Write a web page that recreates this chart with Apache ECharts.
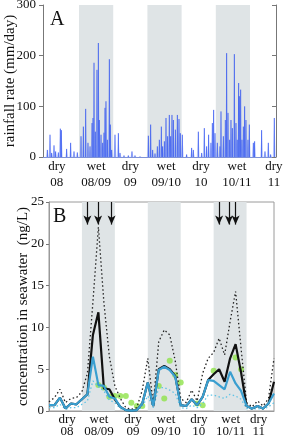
<!DOCTYPE html>
<html><head><meta charset="utf-8">
<script src="https://cdn.jsdelivr.net/npm/echarts@6/dist/echarts.min.js"></script>
<style>html,body{margin:0;padding:0;background:#fff}#c{width:285px;height:438px}</style>
</head><body><div id="c"></div>
<script>
// x unit: months since Jan 2008 (0 = Jan 2008)
const seasonLabels = ['dry\n08','wet\n08/09','dry\n09','wet\n09/10','dry\n10','wet\n10/11','dry\n11'];
const labelPosA = [6.1, 13.0, 19.0, 25.3, 31.4, 37.7, 44.2];
const labelPosB = [7.3, 13.1, 19.3, 25.3, 31.3, 37.1, 42.2];
const wetSeasons = [[10, 16], [22, 28], [34, 40]];

// Panel A: daily rainfall spikes (month position, mm/day)
const rainMonths = [4.44,4.91,5.20,5.61,5.90,6.37,6.72,6.90,7.83,8.53,9.12,9.70,
  10.35,10.76,11.17,11.57,11.93,12.28,12.45,12.63,12.86,13.15,13.39,13.56,13.86,14.15,14.38,14.56,14.73,14.97,15.32,15.49,15.73,
  16.31,16.90,17.19,17.89,18.65,19.29,19.82,20.70,
  22.16,22.57,22.92,23.33,23.74,24.09,24.44,24.67,24.97,25.26,25.55,25.84,26.08,26.31,26.55,26.90,27.25,27.54,27.77,28.12,
  28.88,29.76,30.05,30.93,31.52,31.98,32.39,32.74,33.15,33.39,33.62,33.86,
  34.26,34.73,34.91,35.32,35.67,35.90,36.14,36.43,36.66,36.90,37.25,37.54,37.77,38.01,38.12,38.36,38.59,38.83,39.06,39.29,39.64,39.88,
  40.58,40.81,42.04,42.63,43.21,43.62,44.26];
const rainValues = [14,44,8,23,11,9,56,53,16,28,11,9,
  41,60,95,28,21,67,77,186,50,172,225,73,44,28,48,97,110,34,193,64,14,
  44,47,8,3,3,11,3,1,
  42,64,14,7,21,34,60,21,31,77,41,83,41,83,73,54,83,75,47,44,
  5,18,14,50,8,57,21,44,28,67,93,47,
  28,21,90,41,73,205,87,34,73,57,203,67,34,146,120,133,34,60,100,73,34,64,
  28,31,53,11,28,5,77];

// Panel B: monthly model output and observations
const bMonths = [4,5,6,7,8,9,10,11,12,13,14,15,16,17,18,19,20,21,22,23,24,25,26,27,28,29,30,31,32,33,34,35,36,37,38,39,40,41,42,43,44,45];
const blackSolid = [0.7,0.7,1.6,0.3,0.9,0.8,1.4,2.0,9.1,11.8,2.7,2.6,1.4,0.5,0.1,0.05,0.1,0.9,3.4,0.6,5.0,5.4,5.0,4.2,0.7,0.6,1.4,0.7,1.7,3.7,4.4,5.0,3.5,6.3,8.0,4.6,0.6,0.3,0.6,0.3,0.9,3.5];
const blueSolid  = [0.7,0.7,1.6,0.3,0.9,0.8,1.4,2.0,6.5,3.1,3.0,1.7,1.5,0.5,0.1,0.05,0.1,0.9,3.4,0.6,4.9,5.3,4.9,4.1,0.7,0.6,1.4,0.7,1.7,3.7,3.6,3.1,2.6,4.7,3.3,2.4,0.6,0.3,0.6,0.3,0.9,2.1];
const blackDotted = [1.1,1.6,2.6,1.0,1.5,1.6,2.3,4.5,13.0,22.0,13.0,6.5,3.0,1.5,0.4,0.2,0.4,2.5,6.3,0.8,8.3,9.7,9.1,6.0,1.5,1.0,2.5,1.2,4.5,6.3,7.0,8.7,6.7,10.7,14.3,7.5,1.0,0.5,1.2,0.6,1.5,6.3];
const blueDotted = [0.4,0.4,0.8,0.2,0.4,0.4,0.8,1.2,3.6,2.9,2.4,1.3,1.0,0.3,0.05,0.03,0.05,0.5,1.8,0.4,2.8,2.8,2.5,2.1,0.4,0.3,0.7,0.4,0.9,1.9,1.9,1.7,1.5,2.0,1.8,1.4,0.3,0.2,0.3,0.2,0.5,1.0];
const obsMonths = [13,14,15,16,17,18,19,20,21,24,25,26,27,28,31,32,34,38,39];
const obsValues = [3.1,2.8,1.7,1.8,1.8,1.8,1.0,0.6,0.6,3.0,1.5,6.0,4.3,3.4,0.9,0.7,4.8,6.4,5.0];
const arrowMonths = [11.0, 12.95, 15.4, 35.0, 36.8, 38.0];

const FONT = 'Liberation Serif';
const zip = (xs, ys) => xs.map((x, i) => [x, ys[i]]);
const labelFor = (pos) => (v) => {
  let best = 0;
  pos.forEach((p, i) => { if (Math.abs(p - v) < Math.abs(pos[best] - v)) best = i; });
  return seasonLabels[best];
};
const bands = wetSeasons.map(s => [{xAxis: s[0]}, {xAxis: s[1]}]);

const chart = echarts.init(document.getElementById('c'), null, {renderer: 'canvas'});
chart.setOption({
  animation: false,
  textStyle: {fontFamily: FONT, color: '#111'},
  grid: [
    {left: 43, top: 5, width: 233, height: 152, show: false, containLabel: false, outerBoundsMode: 'none'},
    {left: 49, top: 202, width: 225, height: 209, show: true, borderColor: '#9a9a9a', borderWidth: 1, backgroundColor: 'transparent', containLabel: false, outerBoundsMode: 'none'}
  ],
  xAxis: [
    {gridIndex: 0, type: 'value', min: 3.68, max: 44.56, splitLine: {show: false},
     axisLine: {lineStyle: {color: '#7f92d6', width: 1}}, axisTick: {show: false},
     axisLabel: {customValues: labelPosA, formatter: labelFor(labelPosA), fontFamily: FONT, fontSize: 13, color: '#111', lineHeight: 16, margin: 2}},
    {gridIndex: 1, type: 'value', min: 4, max: 45, splitLine: {show: false},
     axisLine: {lineStyle: {color: '#9a9a9a', width: 1}}, axisTick: {show: false},
     axisLabel: {customValues: labelPosB, formatter: labelFor(labelPosB), fontFamily: FONT, fontSize: 13, color: '#111', lineHeight: 12.5, margin: 2}}
  ],
  yAxis: [
    {gridIndex: 0, type: 'value', min: 0, max: 300, interval: 100, position: 'left',
     name: 'rainfall rate (mm/day)', nameLocation: 'middle', nameGap: 25, nameMoveOverlap: false,
     nameTextStyle: {fontFamily: FONT, fontSize: 15, color: '#111'},
     splitLine: {show: false}, axisLine: {show: true, lineStyle: {color: '#777'}},
     axisTick: {show: true, length: 4, lineStyle: {color: '#777'}},
     axisLabel: {fontFamily: FONT, fontSize: 13, color: '#111', margin: 7}},
    {gridIndex: 0, type: 'value', min: 0, max: 300, interval: 100, position: 'right',
     splitLine: {show: false}, axisLine: {show: true, lineStyle: {color: '#777'}},
     axisTick: {show: true, inside: true, length: 4, lineStyle: {color: '#777'}},
     axisLabel: {show: false}},
    {gridIndex: 1, type: 'value', min: 0, max: 25, interval: 5, position: 'left',
     name: 'concentration in seawater  (ng/L)', nameLocation: 'middle', nameGap: 18, nameMoveOverlap: false,
     nameTextStyle: {fontFamily: FONT, fontSize: 15, color: '#111'},
     splitLine: {show: false}, axisLine: {show: true, lineStyle: {color: '#9a9a9a'}},
     axisTick: {show: true, length: 3, lineStyle: {color: '#777'}},
     axisLabel: {fontFamily: FONT, fontSize: 13, color: '#111', margin: 5}}
  ],
  graphic: [
    {type: 'text', left: 50, top: 10, style: {text: 'A', font: '20px ' + FONT, fill: '#111'}},
    {type: 'text', left: 53, top: 207, style: {text: 'B', font: '20px ' + FONT, fill: '#111'}}
  ],
  series: [
    {type: 'custom', xAxisIndex: 0, yAxisIndex: 0, data: zip(rainMonths, rainValues), silent: true,
     encode: {x: 0, y: 1}, clip: true,
     renderItem: (params, api) => {
       const b = api.coord([api.value(0), 0]);
       const t = api.coord([api.value(0), api.value(1)]);
       return {type: 'group', children: [
         {type: 'polygon', shape: {points: [[b[0] - 1.6, b[1]], [t[0], t[1]], [b[0] + 1.6, b[1]]]},
          style: {fill: 'rgba(120,150,245,0.35)'}},
         {type: 'line', shape: {x1: b[0], y1: b[1], x2: t[0], y2: t[1]},
          style: {stroke: 'rgba(40,75,240,0.85)', lineWidth: 1}}
       ]};
     },
     markArea: {silent: true, itemStyle: {color: '#dfe4e6'}, data: bands}},
    {type: 'line', xAxisIndex: 1, yAxisIndex: 2, data: zip(bMonths, blueDotted), symbol: 'none',
     lineStyle: {color: '#5ec3e6', width: 1.3, type: [1.5, 2.5]}, silent: true,
     markArea: {silent: true, itemStyle: {color: '#dfe4e6'}, data: bands}},
    {type: 'line', xAxisIndex: 1, yAxisIndex: 2, data: zip(bMonths, blackDotted), symbol: 'none',
     lineStyle: {color: '#222', width: 1.3, type: [1.5, 2.5]}, silent: true},
    {type: 'line', xAxisIndex: 1, yAxisIndex: 2, data: zip(bMonths, blackSolid), symbol: 'none',
     lineStyle: {color: '#111', width: 2.2}, silent: true,
     markLine: {silent: true, symbol: ['none', 'arrow'], symbolSize: [6, 9],
       lineStyle: {color: '#111', width: 1.2, type: 'solid'}, label: {show: false},
       data: arrowMonths.map(m => [{coord: [m, 25]}, {coord: [m, 22.3]}])}},
    {type: 'line', xAxisIndex: 1, yAxisIndex: 2, data: zip(bMonths, blueSolid), symbol: 'none',
     lineStyle: {color: '#3a9fd0', width: 2.2}, silent: true},
    {type: 'scatter', xAxisIndex: 1, yAxisIndex: 2, data: zip(obsMonths, obsValues), symbolSize: 6,
     itemStyle: {color: '#8fe24a'}, silent: true}
  ]
});
</script></body></html>
